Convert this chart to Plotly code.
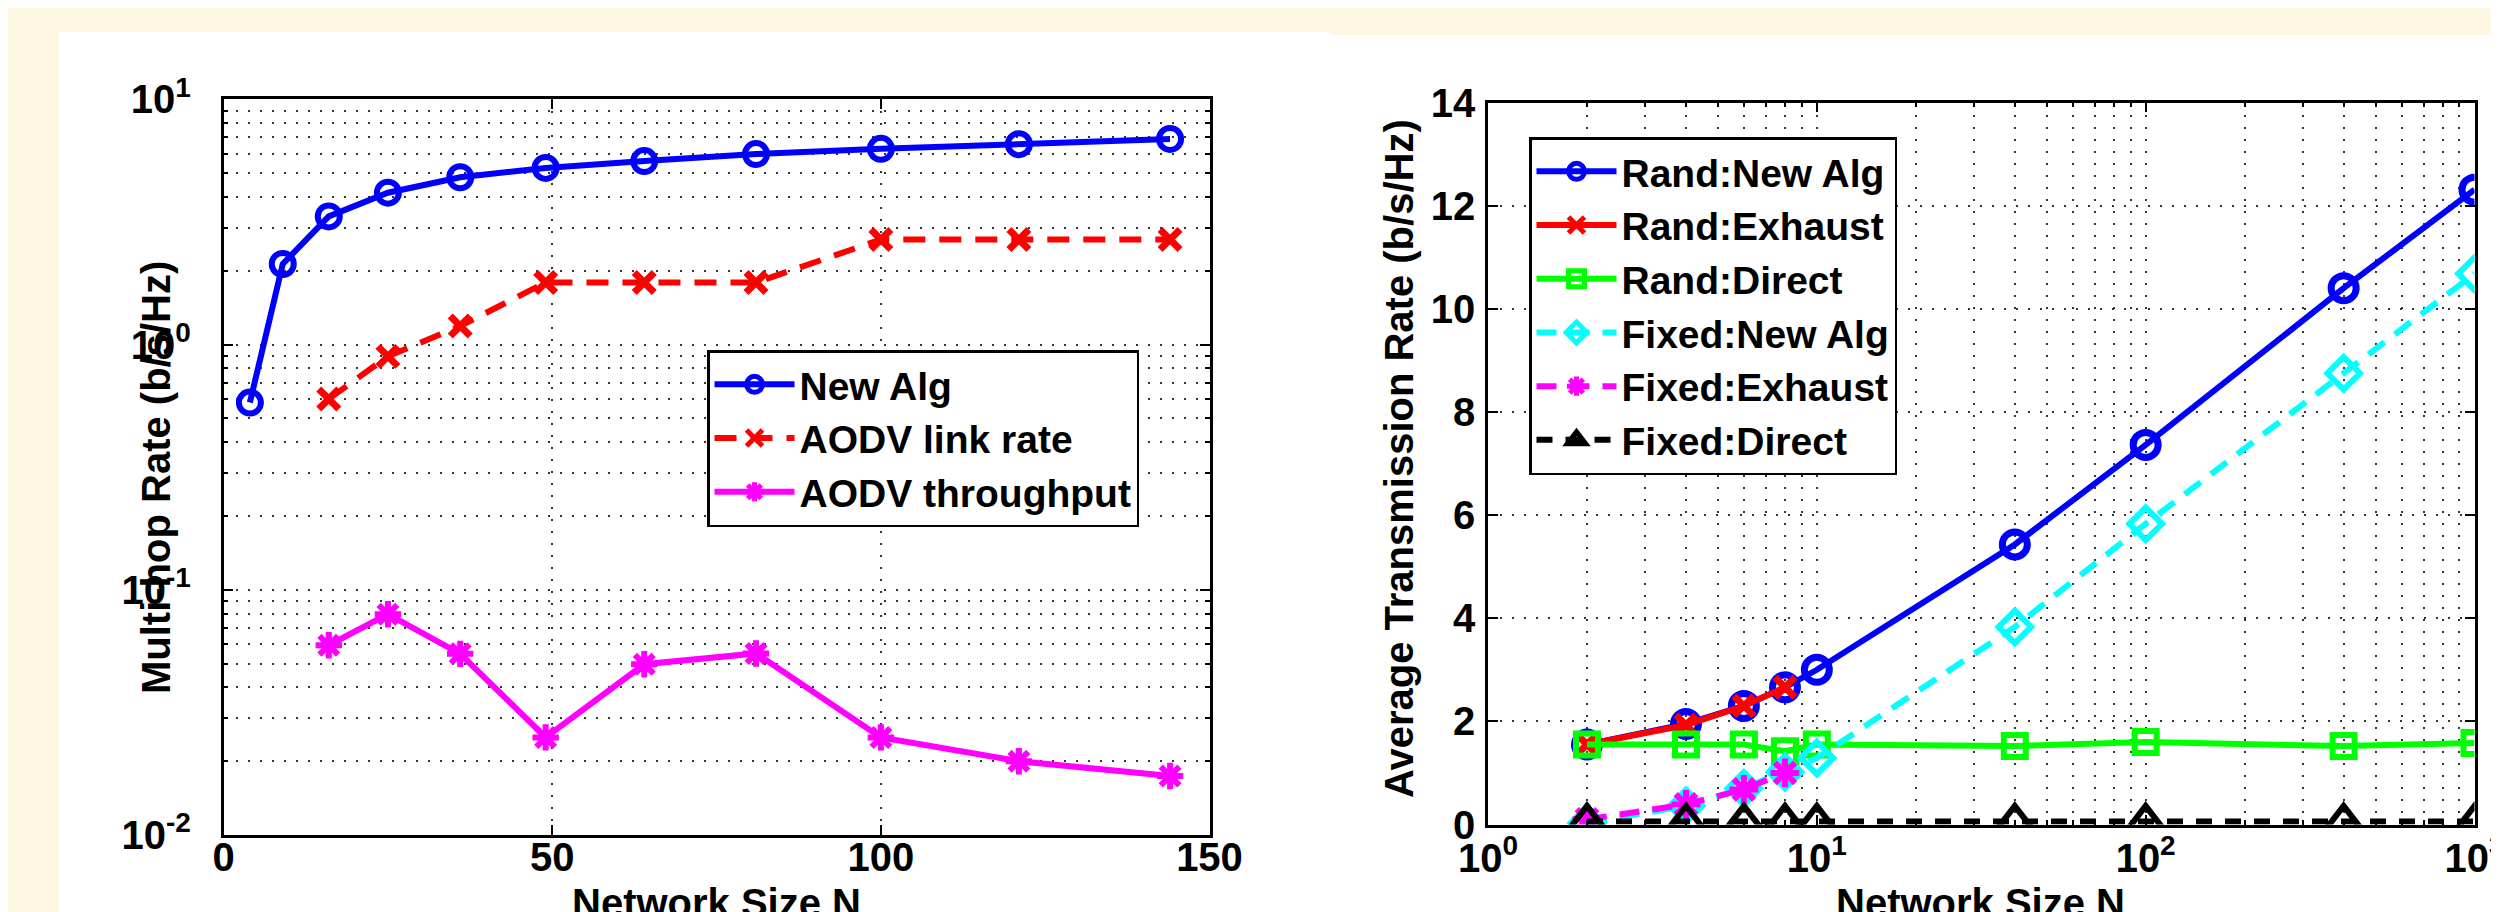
import plotly.graph_objects as go

W, H = 2499, 912
FONT = "Arial, Liberation Sans, Helvetica, sans-serif"

# ---------------- Left panel data ----------------
n_left = [4, 9, 16, 25, 36, 49, 64, 81, 100, 121, 144]
new_alg = [0.58, 2.13, 3.33, 4.16, 4.81, 5.25, 5.60, 5.98, 6.28, 6.56, 6.89]
n_aodv = [16, 25, 36, 49, 64, 81, 100, 121, 144]
aodv_link = [0.60, 0.895, 1.19, 1.79, 1.79, 1.79, 2.68, 2.68, 2.68]
aodv_tp = [0.0594, 0.0795, 0.0548, 0.0250, 0.0497, 0.0550, 0.0250, 0.0200, 0.0174]
left_ytickvals = [0.01, 0.1, 1, 10]
left_yticktext = ["10<sup>-2</sup>", "10<sup>-1</sup>", "10<sup>0</sup>", "10<sup>1</sup>"]
left_xtickvals = [0, 50, 100, 150]

# ---------------- Right panel data ----------------
n_right = [2, 4, 6, 8, 10, 40, 100, 400, 1000]
rand_new = [1.55, 1.95, 2.30, 2.66, 3.00, 5.43, 7.36, 10.40, 12.31]
n_exh = [2, 4, 6, 8]
rand_exh = [1.55, 1.93, 2.30, 2.66]
rand_direct = [1.55, 1.55, 1.55, 1.42, 1.55, 1.52, 1.60, 1.52, 1.58]
fixed_new = [0.03, 0.36, 0.70, 1.02, 1.29, 3.83, 5.83, 8.75, 10.68]
fixed_exh = [0.10, 0.39, 0.68, 1.00]
fixed_direct = [0.06, 0.06, 0.06, 0.06, 0.06, 0.06, 0.06, 0.06, 0.06]
right_xtickvals = [1, 10, 100, 1000]
right_xticktext = ["10<sup>0</sup>", "10<sup>1</sup>", "10<sup>2</sup>", "10<sup>3</sup>"]
right_ytickvals = [0, 2, 4, 6, 8, 10, 12, 14]

minor_left_y = [k * 10.0 ** e for e in (-2, -1, 0) for k in range(2, 10)]
minor_right_x = [k * 10.0 ** e for e in (0, 1, 2) for k in range(2, 10)]

fig = go.Figure()


def add(x, y, name, color, symbol, msize, dash, xa, ya, leg, lw=6, mlw=6):
    fig.add_trace(go.Scatter(
        x=x, y=y, name=name, mode="lines+markers",
        line=dict(color=color, width=lw, dash=dash),
        marker=dict(symbol=symbol, size=msize, color=color,
                    line=dict(color=color, width=mlw)),
        xaxis=xa, yaxis=ya, legend=leg))


# left traces
add(n_left, new_alg, "New Alg", "#0000FF", "circle-open", 22, "solid", "x", "y", "legend")
add(n_aodv, aodv_link, "AODV link rate", "#FF0000", "x-thin-open", 20, "22px,14px", "x", "y", "legend", mlw=7)
add(n_aodv, aodv_tp, "AODV throughput", "#FF00FF", "asterisk-open", 22, "solid", "x", "y", "legend", mlw=6)

# right traces
add(n_right, rand_new, "Rand:New Alg", "#0000FF", "circle-open", 25, "solid", "x2", "y2", "legend2", mlw=7)
add(n_exh, rand_exh, "Rand:Exhaust", "#FF0000", "x-thin-open", 20, "solid", "x2", "y2", "legend2", mlw=7)
add(n_right, rand_direct, "Rand:Direct", "#00FF00", "square-open", 22, "solid", "x2", "y2", "legend2", mlw=6)
add(n_right, fixed_new, "Fixed:New Alg", "#00FFFF", "diamond-open", 25, "20px,13px", "x2", "y2", "legend2", mlw=6)
add(n_exh, fixed_exh, "Fixed:Exhaust", "#FF00FF", "asterisk-open", 24, "20px,13px", "x2", "y2", "legend2", mlw=6)
add(n_right, fixed_direct, "Fixed:Direct", "#000000", "triangle-up-open", 31, "16px,13px", "x2", "y2", "legend2", mlw=6)

tickfont = dict(family=FONT, size=40, color="black", weight="bold")
grid = dict(showgrid=True, gridcolor="#333333", gridwidth=1.5, griddash="2px,10px")
axline = dict(showline=True, linecolor="black", linewidth=2.5, mirror="ticks",
              ticks="inside", ticklen=10, tickwidth=1.5, tickcolor="black",
              zeroline=False, automargin=False, tickfont=tickfont)
minor_style = dict(ticks="inside", ticklen=5, tickcolor="black", showgrid=True,
                   gridcolor="#333333", gridwidth=1.5, griddash="2px,10px")
legfont = dict(family=FONT, size=39, color="black", weight="bold")
titlefont = dict(family=FONT, size=40, color="black", weight="bold")

fig.update_layout(
    width=W, height=H,
    margin=dict(l=0, r=0, t=0, b=0),
    paper_bgcolor="#FDF6E1",
    plot_bgcolor="white",
    font=dict(family=FONT, color="black"),
    xaxis=dict(domain=[215.6 / W, 1201.5 / W], anchor="y", range=[0, 150],
               tickmode="array", tickvals=left_xtickvals, ticklabelstandoff=-15,
               **grid, **axline),
    yaxis=dict(domain=[1 - 827 / H, 1 - 91.3 / H], anchor="x", type="log", range=[-2, 1],
               tickmode="array", tickvals=left_ytickvals, ticktext=left_yticktext,
               ticklabelstandoff=22,
               minor=dict(tickmode="array", tickvals=minor_left_y, **minor_style),
               **grid, **axline),
    xaxis2=dict(domain=[1480 / W, 2466.5 / W], anchor="y2", type="log", range=[0, 3],
                tickmode="array", tickvals=right_xtickvals, ticktext=right_xticktext,
                ticklabelstandoff=-3,
                minor=dict(tickmode="array", tickvals=minor_right_x, **minor_style),
                **grid, **axline),
    yaxis2=dict(domain=[1 - 816.5 / H, 1 - 94.5 / H], anchor="x2", range=[0, 14],
                tickmode="array", tickvals=right_ytickvals, ticklabelstandoff=2,
                **grid, **axline),
    legend=dict(x=699 / W, y=1 - 342 / H, xanchor="left", yanchor="top",
                bgcolor="white", bordercolor="black", borderwidth=2.5,
                font=legfont, itemwidth=80),
    legend2=dict(x=1521 / W, y=1 - 129 / H, xanchor="left", yanchor="top",
                 bgcolor="white", bordercolor="black", borderwidth=2.5,
                 font=legfont, itemwidth=80),
    shapes=[
        dict(type="rect", xref="paper", yref="paper", x0=51 / W, x1=1323 / W, y0=0, y1=1 - 24 / H,
             fillcolor="white", line=dict(width=0), layer="below"),
        dict(type="rect", xref="paper", yref="paper", x0=1323 / W, x1=1, y0=0, y1=1 - 27 / H,
             fillcolor="white", line=dict(width=0), layer="below"),
    ],
    annotations=[
        dict(text="Multi-hop Rate (b/s/Hz)", xref="paper", yref="paper", x=148 / W, y=1 - 470 / H,
             xanchor="center", yanchor="middle", textangle=-90, showarrow=False, font=titlefont),
        dict(text="Average Transmission Rate (b/s/Hz)", xref="paper", yref="paper", x=1391 / W,
             y=1 - 451 / H, xanchor="center", yanchor="middle", textangle=-90, showarrow=False,
             font=titlefont),
        dict(text="Network Size N", xref="paper", yref="paper", x=708 / W, y=1 - 895 / H,
             xanchor="center", yanchor="middle", showarrow=False, font=titlefont),
        dict(text="Network Size N", xref="paper", yref="paper", x=1972 / W, y=1 - 895 / H,
             xanchor="center", yanchor="middle", showarrow=False, font=titlefont),
    ],
)

fig.write_html("out.html")
